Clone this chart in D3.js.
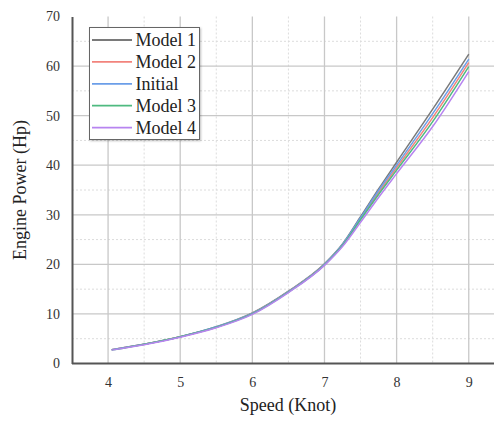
<!DOCTYPE html>
<html><head><meta charset="utf-8">
<script src="https://cdn.jsdelivr.net/npm/d3@7/dist/d3.min.js"></script>
<style>body{margin:0;background:#fff;}svg{display:block;font-family:"Liberation Serif","DejaVu Serif",serif;}</style>
</head><body>
<svg id="c" width="494" height="421"></svg>
<script>
const speeds = [4.05, 4.5, 5, 5.5, 6, 6.5, 7, 7.25, 7.5, 7.75, 8, 8.5, 9];
const model1 = [2.8, 3.9, 5.4, 7.4, 10.2, 14.6, 20.1, 24.1, 29.6, 35.2, 40.6, 51.3, 62.4];
const model2 = [2.8, 3.9, 5.4, 7.3, 10.1, 14.5, 20.0, 23.9, 29.2, 34.5, 39.5, 49.6, 60.7];
const initial = [2.8, 3.9, 5.4, 7.4, 10.1, 14.5, 20.0, 24.0, 29.4, 34.9, 40.0, 50.4, 61.4];
const model3 = [2.7, 3.9, 5.4, 7.3, 10.0, 14.4, 19.9, 23.8, 29.0, 34.1, 39.0, 48.8, 59.9];
const model4 = [2.7, 3.8, 5.3, 7.2, 9.9, 14.3, 19.8, 23.6, 28.5, 33.5, 38.3, 47.8, 58.9];
const seriesNames = ["Model 1", "Model 2", "Initial", "Model 3", "Model 4"];
const seriesColors = ["#7a7a7a", "#f2837c", "#6b9ee8", "#4fba80", "#b784f0"];
const xTicks = [4, 5, 6, 7, 8, 9];
const yTicks = [0, 10, 20, 30, 40, 50, 60, 70];

const seriesValues = [model1, model2, initial, model3, model4];
const svg = d3.select("#c");
const x = d3.scaleLinear().domain([3.5, 9.35]).range([72, 494]);
const y = d3.scaleLinear().domain([0, 70]).range([363.5, 16.5]);

// minor grid
const g = svg.append("g");
d3.range(4.5, 9.5, 1).forEach(v => g.append("line").attr("x1", x(v)).attr("x2", x(v)).attr("y1", y(70)).attr("y2", y(0))
  .attr("stroke", "#dcdcdc").attr("stroke-width", 1).attr("stroke-dasharray", "2,2"));
d3.range(5, 70, 10).forEach(v => g.append("line").attr("x1", x(3.5)).attr("x2", 494).attr("y1", y(v)).attr("y2", y(v))
  .attr("stroke", "#dcdcdc").attr("stroke-width", 1).attr("stroke-dasharray", "2,2"));
// major grid
xTicks.forEach(v => g.append("line").attr("x1", x(v)).attr("x2", x(v)).attr("y1", y(70)).attr("y2", y(0))
  .attr("stroke", "#c8c8c8").attr("stroke-width", 1.3));
yTicks.filter(v => v > 0 && v < 70).forEach(v => g.append("line").attr("x1", x(3.5)).attr("x2", 494).attr("y1", y(v)).attr("y2", y(v))
  .attr("stroke", "#c8c8c8").attr("stroke-width", 1.3));

// axes
const xAxis = svg.append("g").attr("transform", `translate(0,${y(0)})`)
  .call(d3.axisBottom(x).tickValues(xTicks).tickSize(0).tickPadding(14).tickFormat(d3.format("d")));
xAxis.select(".domain").attr("stroke", "#555").attr("stroke-width", 2).attr("d", `M${x(3.5)},0H494`);
xAxis.selectAll("text").attr("font-size", 14).attr("fill", "#333").attr("font-family", "Liberation Serif");
const yAxis = svg.append("g").attr("transform", `translate(${x(3.5)},0)`)
  .call(d3.axisLeft(y).tickValues(yTicks).tickSize(0).tickPadding(12).tickFormat(d3.format("d")));
yAxis.select(".domain").attr("stroke", "#555").attr("stroke-width", 2);
yAxis.selectAll("text").attr("font-size", 14).attr("fill", "#333").attr("font-family", "Liberation Serif");

// lines
const line = d3.line().x((d, i) => x(speeds[i])).y(d => y(d)).curve(d3.curveMonotoneX);
seriesValues.forEach((vals, k) => {
  svg.append("path").datum(vals).attr("d", line).attr("fill", "none")
    .attr("stroke", seriesColors[k]).attr("stroke-width", 1.5);
});

// titles
svg.append("text").attr("x", 288).attr("y", 411).attr("text-anchor", "middle")
  .attr("font-size", 18).attr("fill", "#222").text("Speed (Knot)");
svg.append("text").attr("transform", `translate(26,190) rotate(-90)`).attr("text-anchor", "middle")
  .attr("font-size", 18).attr("fill", "#222").text("Engine Power (Hp)");

// legend
const defs = svg.append("defs");
const f = defs.append("filter").attr("id", "sh").attr("x", "-10%").attr("y", "-10%").attr("width", "130%").attr("height", "130%");
f.append("feDropShadow").attr("dx", 1).attr("dy", 1).attr("stdDeviation", 1).attr("flood-color", "#000").attr("flood-opacity", 0.25);
const lg = svg.append("g");
lg.append("rect").attr("x", 89.5).attr("y", 27.5).attr("width", 110).attr("height", 112)
  .attr("fill", "#fff").attr("stroke", "#666").attr("stroke-width", 1).attr("filter", "url(#sh)");
seriesNames.forEach((n, k) => {
  const cy = 40 + k * 21.9;
  lg.append("line").attr("x1", 92).attr("x2", 132).attr("y1", cy).attr("y2", cy)
    .attr("stroke", seriesColors[k]).attr("stroke-width", 1.8);
  lg.append("text").attr("x", 135.5).attr("y", cy + 6).attr("font-size", 18).attr("fill", "#222").text(n);
});
</script>
</body></html>
